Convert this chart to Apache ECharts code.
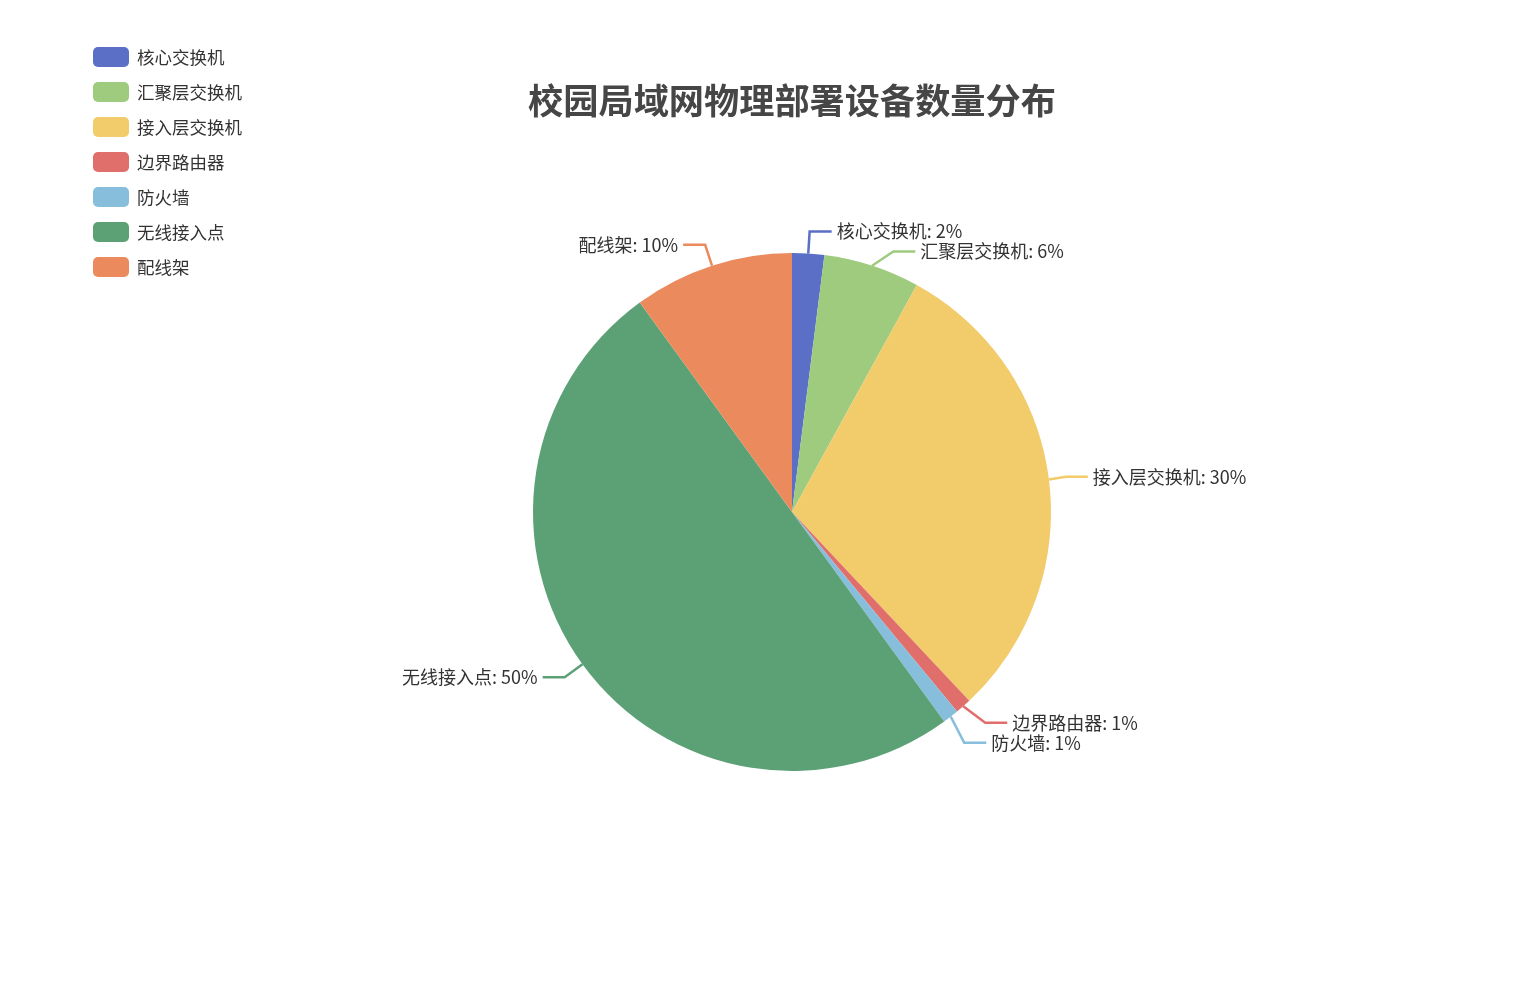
<!DOCTYPE html>
<html>
<head>
<meta charset="utf-8">
<title>校园局域网物理部署设备数量分布</title>
<script src="https://cdn.jsdelivr.net/npm/echarts@6/dist/echarts.min.js"></script>
<style>
    html, body {margin: 0; padding: 0; background: #fff; overflow: hidden;}
    #main_chart {width: 1514px; height: 994px;}
</style>
</head>
<body>
<div id="main_chart"></div>
<script>
// 设备类型及占比
var deviceNames = ['核心交换机', '汇聚层交换机', '接入层交换机', '边界路由器', '防火墙', '无线接入点', '配线架'];
var deviceCounts = [2, 6, 30, 1, 1, 50, 10];
var deviceColors = ['#5a6fc5', '#9fcb7f', '#f2cb6b', '#e06f6b', '#86bedb', '#5ca176', '#eb8a5d'];

var fontFamily = '"Noto Sans CJK SC", "Noto Sans", sans-serif';

var pieData = deviceNames.map(function (name, i) {
    return {name: name, value: deviceCounts[i]};
});

var option = {
    color: deviceColors,
    title: {
        text: '校园局域网物理部署设备数量分布',
        left: 787,
        top: 78,
        textAlign: 'center',
        textStyle: {
            fontSize: 35.2,
            fontWeight: 'bold',
            color: '#464646',
            fontFamily: fontFamily
        }
    },
    legend: {
        orient: 'vertical',
        left: 88,
        top: 42,
        itemWidth: 36,
        itemHeight: 20,
        itemGap: 15,
        data: deviceNames,
        textStyle: {
            fontSize: 17.5,
            color: '#333',
            padding: [0, 0, 0, 3],
            fontFamily: fontFamily
        }
    },
    series: [{
        type: 'pie',
        center: [792, 512],
        radius: 259,
        startAngle: 90,
        data: pieData,
        label: {
            formatter: '{b}: {d}%',
            fontSize: 18,
            color: '#333',
            fontFamily: fontFamily
        },
        labelLine: {
            length: 22,
            length2: 22,
            lineStyle: {
                width: 2.5
            }
        }
    }]
};
echarts.init(document.getElementById('main_chart')).setOption(option);
</script>
</body>
</html>
